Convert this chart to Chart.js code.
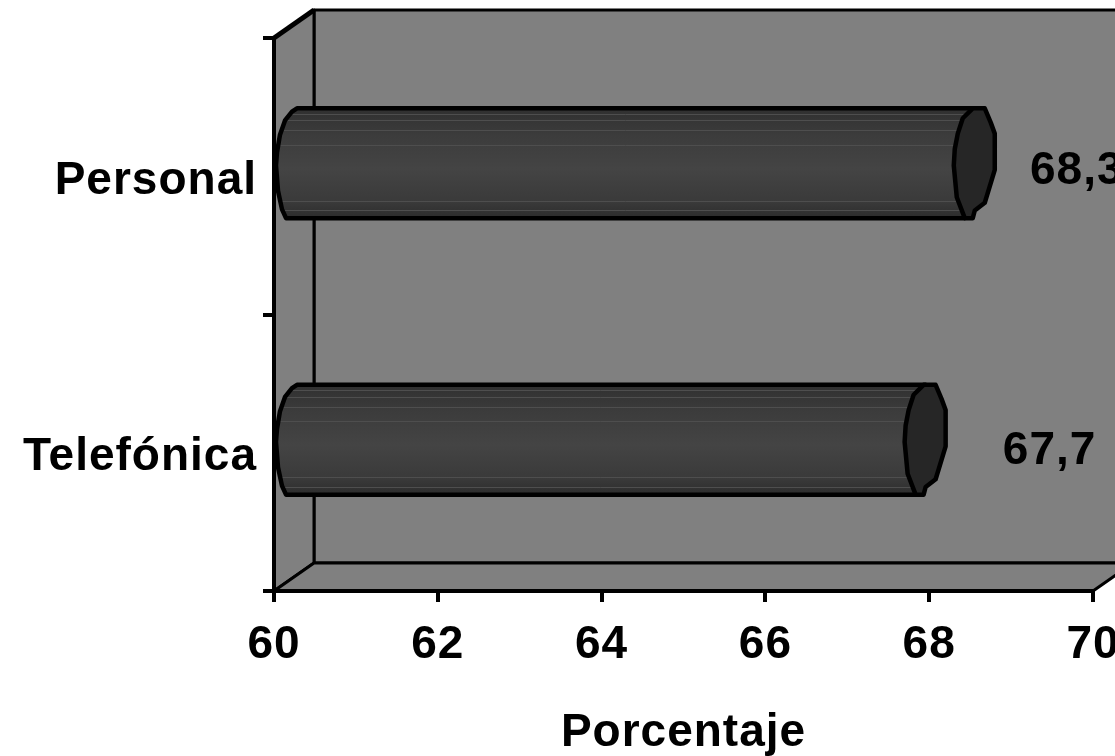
<!DOCTYPE html>
<html>
<head>
<meta charset="utf-8">
<style>
  html, body { margin: 0; background: #fff; }
  canvas { display: block; }
</style>
</head>
<body>
<canvas id="myChart" width="1115" height="756"></canvas>
<script src="https://cdn.jsdelivr.net/npm/chart.js@4"></script>
<script>
const categories = ['Personal', 'Telefónica'];
const porcentaje = [68.3, 67.7];
const valueLabels = ['68,3', '67,7'];
const xMin = 60;
const xMax = 70;
const xStep = 2;
const xTitle = 'Porcentaje';

const FONT = 'Liberation Sans, Arial, sans-serif';
const FONT_SIZE = 46;
// depth of the fake 3d box
const DEPTH_X = 40;
const DEPTH_Y = 28;
// the value labels were moved by hand in the original
const labelShift = [[123, 8], [145, 12]];

// outline of the rounded ends: dx in px, dy as a fraction of the bar height
const leftEnd = [[21, 0], [16, .03], [9, .11], [4, .24], [1, .4], [0, .52], [2, .75], [6, .92], [10, 1]];
const capEnd = [[19, 0], [31, 0], [37, .13], [41, .23], [41, .56], [31, .86], [21, .93], [19, 1], [11, 1],
  [3, .81], [0, .52], [1, .37], [4, .23], [9, .09]];
const sheen = [.05, .11, .2, .33, .84, .93];

function tracePath(ctx, pts) {
  ctx.beginPath();
  pts.forEach((p, i) => (i ? ctx.lineTo(p[0], p[1]) : ctx.moveTo(p[0], p[1])));
  ctx.closePath();
}

function polygon(ctx, pts, fill, lineWidth) {
  tracePath(ctx, pts);
  ctx.fillStyle = fill;
  ctx.fill();
  ctx.lineWidth = lineWidth;
  ctx.stroke();
}

const box3d = {
  id: 'box3d',
  beforeLayout(chart) {
    // original text is a bit wider than the plain font
    chart.ctx.letterSpacing = '1px';
  },
  beforeDraw(chart) {
    const ctx = chart.ctx;
    const a = chart.chartArea;
    ctx.letterSpacing = '1px';
    ctx.save();
    ctx.strokeStyle = '#000';
    ctx.lineJoin = 'round';
    const backL = a.left + DEPTH_X, backR = a.right + DEPTH_X;
    const backT = a.top - DEPTH_Y, backB = a.bottom - DEPTH_Y;
    polygon(ctx, [[backL, backT], [backR, backT], [backR, backB], [backL, backB]], '#808080', 3);
    polygon(ctx, [[a.left, a.top], [backL, backT], [backL, backB], [a.left, a.bottom]], '#808080', 3);
    polygon(ctx, [[a.left, a.bottom], [backL, backB], [backR, backB], [a.right, a.bottom]], '#808080', 3);
    // upper slanted edge is heavier in the original
    ctx.lineWidth = 5;
    ctx.beginPath();
    ctx.moveTo(a.left, a.top);
    ctx.lineTo(backL, backT);
    ctx.stroke();
    ctx.restore();
  },
  // the default flat rectangle is replaced by a cylinder built on the bar element
  beforeDatasetDraw(chart, args) {
    const ctx = chart.ctx;
    ctx.save();
    ctx.strokeStyle = '#000';
    ctx.lineJoin = 'round';
    args.meta.data.forEach((bar, i) => {
      const h = bar.height;
      const top = bar.y - h / 2 - 13;
      const x0 = bar.base;
      const x1 = bar.x;
      const grad = ctx.createLinearGradient(0, top, 0, top + h);
      grad.addColorStop(0, '#303030');
      grad.addColorStop(.25, '#3c3c3c');
      grad.addColorStop(.55, '#444444');
      grad.addColorStop(.85, '#3a3a3a');
      grad.addColorStop(1, '#2c2c2c');

      const body = [[x1 + 21, top], ...leftEnd.map(p => [x0 + p[0], top + p[1] * h]), [x1 + 11, top + h]];
      tracePath(ctx, body);
      ctx.fillStyle = grad;
      ctx.fill();

      // sheen goes under the outline
      ctx.save();
      tracePath(ctx, body);
      ctx.clip();
      ctx.strokeStyle = '#4e4e4e';
      ctx.lineWidth = 1;
      sheen.forEach(f => {
        ctx.beginPath();
        ctx.moveTo(x0, Math.round(top + f * h) + .5);
        ctx.lineTo(x1 + 21, Math.round(top + f * h) + .5);
        ctx.stroke();
      });
      ctx.restore();

      tracePath(ctx, body);
      ctx.lineWidth = 4.5;
      ctx.stroke();

      polygon(ctx, capEnd.map(p => [x1 + p[0], top + p[1] * h]), '#262626', 4.5);

      ctx.fillStyle = '#000';
      ctx.font = 'bold ' + FONT_SIZE + 'px ' + FONT;
      ctx.textAlign = 'center';
      ctx.textBaseline = 'middle';
      ctx.fillText(valueLabels[i], x1 + labelShift[i][0], top + h / 2 + labelShift[i][1]);
    });
    ctx.restore();
    return false;
  }
};

new Chart(document.getElementById('myChart'), {
  type: 'bar',
  data: {
    labels: categories,
    datasets: [{
      label: xTitle,
      data: porcentaje,
      base: xMin,
      backgroundColor: '#3c3c3c',
      barPercentage: 0.397,
      categoryPercentage: 1
    }]
  },
  options: {
    indexAxis: 'y',
    responsive: false,
    animation: false,
    layout: { padding: { top: 38, right: 22, left: 0, bottom: 0 } },
    plugins: { legend: { display: false }, tooltip: { enabled: false } },
    scales: {
      x: {
        min: xMin,
        max: xMax,
        ticks: {
          stepSize: xStep,
          maxRotation: 0,
          color: '#000',
          padding: 16,
          font: { family: FONT, size: FONT_SIZE, weight: 'bold' }
        },
        grid: { drawOnChartArea: false, color: '#000', lineWidth: 4, tickLength: 11 },
        border: { color: '#000', width: 4 },
        title: {
          display: true,
          text: xTitle,
          color: '#000',
          padding: { top: 18, bottom: 0 },
          font: { family: FONT, size: FONT_SIZE, weight: 'bold', lineHeight: 1 }
        },
        afterFit(scale) {
          scale.height = 165;
          scale.paddingLeft = 0;
          scale.paddingRight = 0;
        }
      },
      y: {
        ticks: {
          color: '#000',
          padding: 6,
          labelOffset: 5,
          font: { family: FONT, size: FONT_SIZE, weight: 'bold' }
        },
        grid: { drawOnChartArea: false, color: '#000', lineWidth: 4, tickLength: 11 },
        border: { color: '#000', width: 4 },
        afterFit(scale) {
          scale.width = 274;
        }
      }
    }
  },
  plugins: [box3d]
});
</script>
</body>
</html>
